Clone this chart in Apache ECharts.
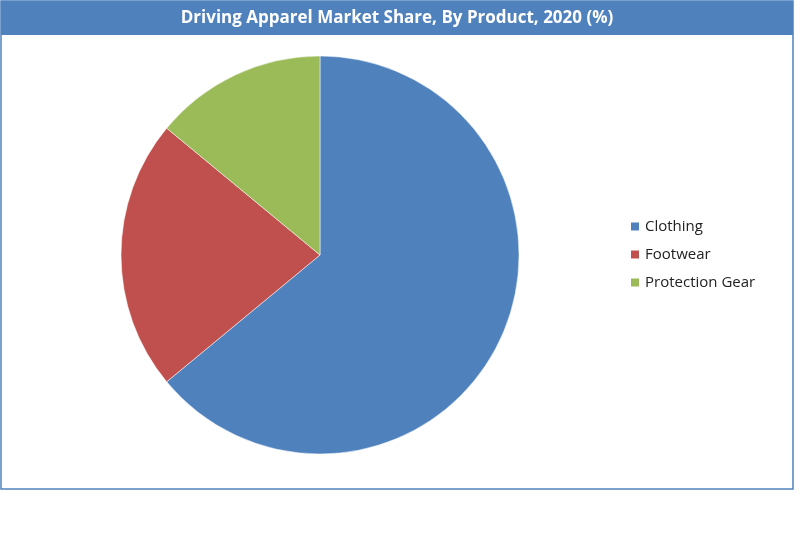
<!DOCTYPE html>
<html><head><meta charset="utf-8">
<script src="https://cdn.jsdelivr.net/npm/echarts@6/dist/echarts.min.js"></script>
<style>html,body{margin:0;padding:0;background:#fff}#c{width:800px;height:534px}</style>
</head><body><div id="c"></div>
<script>
const categories = ["Clothing", "Footwear", "Protection Gear"];
const values = [64, 22, 14];
const colors = ["#4F81BD", "#C0504D", "#9BBB59"];
const chart = echarts.init(document.getElementById('c'));
chart.setOption({
  animation: false,
  graphic: [
    {type:'rect', shape:{x:1,y:1,width:792,height:488}, style:{fill:'none',stroke:'#4F81BD',lineWidth:1.5}},
    {type:'rect', shape:{x:1,y:1,width:792,height:34}, style:{fill:'#4F81BD'}},
    {type:'text', x:397, y:18, style:{text:'Driving Apparel Market Share, By Product, 2020 (%)', fill:'#fff', font:'bold 17px "Open Sans", sans-serif', align:'center', verticalAlign:'middle'}}
  ],
  legend: {
    orient:'vertical', left:624, top:214, itemGap:13, itemWidth:10, itemHeight:10, icon:'rect',
    textStyle:{fontSize:15, color:'#222', fontFamily:'"Open Sans", sans-serif'},
    data: categories
  },
  series: [{
    type:'pie', center:[320,255], radius:199, startAngle:90, clockwise:true,
    label:{show:false}, labelLine:{show:false},
    itemStyle:{borderColor:'#fff', borderWidth:0.5},
    data: categories.map((n,i)=>({name:n, value:values[i], itemStyle:{color:colors[i]}}))
  }]
});
</script></body></html>
